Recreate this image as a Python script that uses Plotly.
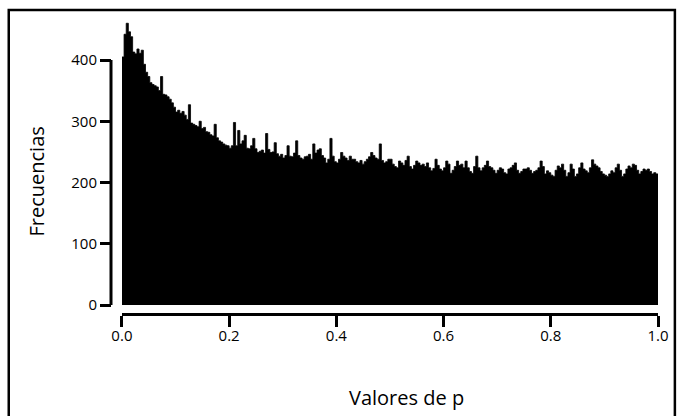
import numpy as np
import plotly.graph_objects as go

# Histogram of p-values: 250 bins of width 0.004 over [0, 1]
bin_edges_start = 0.0
bin_edges_stop = 1.0
n_bins = 250

frecuencias = [
    405, 442, 460, 446, 438, 413, 410, 418, 411, 416,
    393, 380, 373, 363, 360, 358, 356, 350, 373, 344,
    343, 340, 336, 330, 323, 315, 318, 313, 316, 310,
    303, 327, 297, 295, 293, 291, 300, 288, 290, 283,
    282, 278, 276, 295, 273, 268, 266, 263, 261, 260,
    256, 260, 298, 260, 285, 263, 268, 277, 256, 255,
    260, 272, 255, 249, 251, 253, 248, 280, 254, 249,
    250, 265, 247, 243, 246, 240, 244, 260, 243, 242,
    248, 268, 244, 240, 238, 242, 243, 246, 238, 263,
    248, 253, 255, 244, 240, 232, 238, 272, 243, 234,
    232, 238, 249, 243, 240, 236, 243, 238, 238, 234,
    232, 236, 230, 234, 238, 242, 249, 244, 240, 238,
    263, 236, 232, 234, 238, 238, 230, 226, 224, 235,
    232, 228, 236, 243, 226, 222, 228, 235, 232, 228,
    230, 226, 232, 224, 219, 223, 238, 228, 222, 219,
    224, 235, 230, 215, 220, 226, 235, 228, 230, 224,
    235, 224, 218, 215, 226, 243, 224, 219, 224, 228,
    235, 226, 224, 220, 215, 220, 224, 222, 216, 214,
    222, 224, 228, 232, 220, 215, 218, 222, 222, 224,
    220, 215, 218, 220, 224, 235, 226, 214, 219, 216,
    212, 210, 220, 227, 224, 230, 220, 210, 216, 230,
    222, 210, 214, 224, 232, 222, 219, 216, 224, 237,
    230, 227, 224, 218, 214, 212, 210, 214, 219, 216,
    224, 230, 220, 210, 214, 222, 227, 224, 230, 228,
    220, 214, 218, 222, 220, 222, 218, 214, 216, 214,
]

x_ticks = [0.0, 0.2, 0.4, 0.6, 0.8, 1.0]
x_tick_labels = ["0.0", "0.2", "0.4", "0.6", "0.8", "1.0"]
y_ticks = [0, 100, 200, 300, 400]
y_tick_labels = ["0", "100", "200", "300", "400"]

edges = np.linspace(bin_edges_start, bin_edges_stop, n_bins + 1)
# step outline: each bin's count held from its left edge to its right edge
step_y = list(frecuencias) + [frecuencias[-1]]

# Page geometry (pixels)
W, H = 681, 416
left, right, top, bottom_px = 111, 19, 15, 314   # paper box
plot_x0 = 122                                     # pixel of p = 0
base_px = 305                                     # pixel of frequency 0
px_per_unit = 0.6125

paper_w = W - left - right
paper_h = bottom_px - top


def px_x(px):
    return (px - left) / paper_w


def px_y(py):
    return (bottom_px - py) / paper_h


y_top = (base_px - top) / px_per_unit

font = "Open Sans, Lato, sans-serif"

fig = go.Figure(
    go.Scatter(
        x=edges,
        y=step_y,
        mode="lines",
        line=dict(shape="hv", color="black", width=0.8),
        fill="tozeroy",
        fillcolor="black",
        hoverinfo="x+y",
    )
)

fig.update_layout(
    width=W,
    height=H,
    margin=dict(l=left, r=right, t=top, b=H - bottom_px, pad=0),
    paper_bgcolor="white",
    plot_bgcolor="white",
    showlegend=False,
    font=dict(family=font, color="black"),
    xaxis=dict(
        domain=[px_x(plot_x0), 1],
        range=[bin_edges_start, bin_edges_stop],
        anchor="free",
        position=0,
        showline=True,
        linecolor="black",
        linewidth=3,
        ticks="outside",
        ticklen=11,
        tickwidth=3,
        tickcolor="black",
        tickvals=x_ticks,
        ticktext=x_tick_labels,
        ticklabelstandoff=-4,
        tickfont=dict(size=15, family=font),
        showgrid=False,
        zeroline=False,
    ),
    yaxis=dict(
        domain=[px_y(base_px), 1],
        range=[0, y_top],
        anchor="free",
        position=0,
        showline=False,
        ticks="outside",
        ticklen=11,
        tickwidth=3,
        tickcolor="black",
        tickvals=y_ticks,
        ticktext=y_tick_labels,
        tickfont=dict(size=15, family=font),
        showgrid=False,
        zeroline=False,
    ),
    shapes=[
        # detached y-axis line from 0 to 400
        dict(type="line", xref="paper", yref="y", x0=0, x1=0,
             y0=y_ticks[0], y1=y_ticks[-1],
             line=dict(color="black", width=3)),
        # outer frame
        dict(type="rect", xref="paper", yref="paper",
             x0=px_x(8), x1=px_x(679), y0=px_y(425), y1=px_y(10),
             line=dict(color="black", width=2.5), fillcolor="rgba(0,0,0,0)"),
    ],
    annotations=[
        dict(text="Frecuencias", xref="paper", yref="paper",
             x=px_x(35), y=px_y(182), textangle=-90, showarrow=False,
             font=dict(size=20, family=font), xanchor="center", yanchor="middle"),
        dict(text="Valores de p", xref="paper", yref="paper",
             x=px_x(409), y=px_y(397), showarrow=False,
             font=dict(size=20, family=font), xanchor="center", yanchor="middle"),
    ],
)

fig.write_html("out.html")
